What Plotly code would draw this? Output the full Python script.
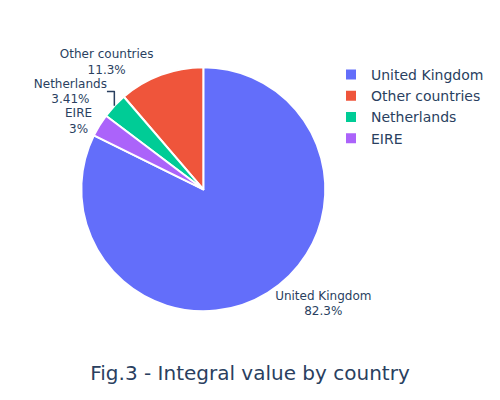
import plotly.graph_objects as go

### Data ###
countries = ['United Kingdom', 'Other countries', 'Netherlands', 'EIRE']
shares    = [82.3, 11.3, 3.41, 3.0]          # integral value share (%)

fig = go.Figure()

fig.add_trace(go.Pie(
    labels       = countries,
    values       = shares,
    textinfo     = 'label+percent',
    textposition = 'outside',
    textfont     = dict(size=12),
    marker       = dict(line=dict(color='white', width=2)),
    domain       = dict(x=[0.1466, 0.6346], y=[0.2418, 0.8518]),
))

fig.update_layout(
    width         = 500,
    height        = 400,
    font          = dict(family='DejaVu Sans'),
    title         = dict(text='Fig.3 - Integral value by country', x=0.484, xanchor='center',
                         y=0.0875, yanchor='middle', font=dict(size=20)),
    legend        = dict(font=dict(size=14), x=0.646, xanchor='left', y=0.8725, yanchor='top'),
    margin        = dict(l=0, r=0, t=0, b=0),
)

fig.write_html("out.html")
